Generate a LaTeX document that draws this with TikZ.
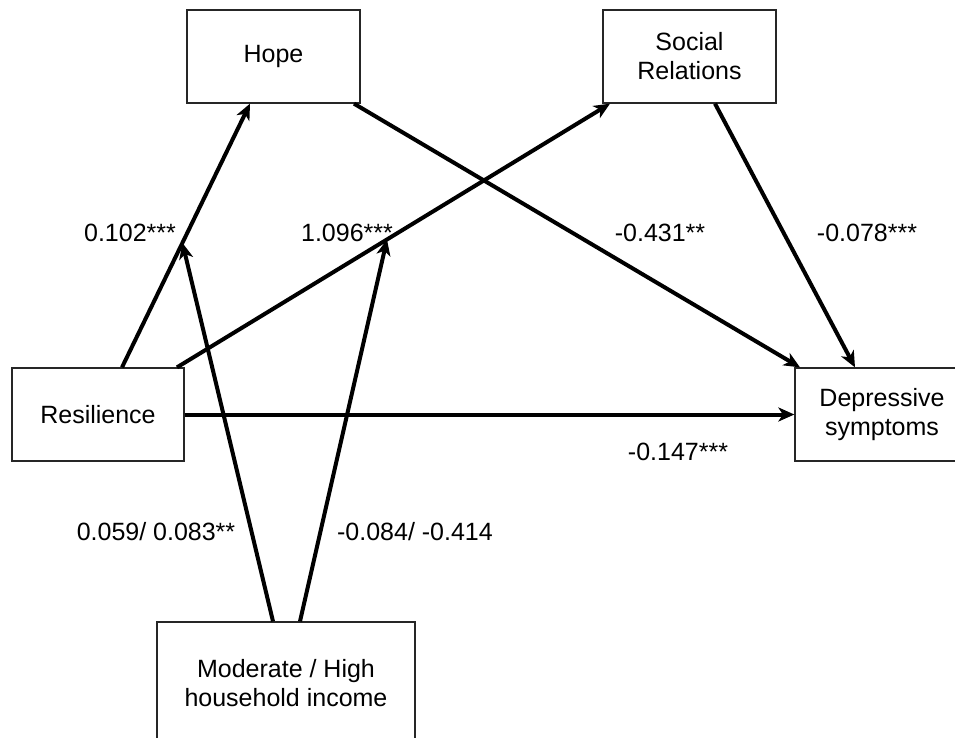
\documentclass[tikz,border=0pt]{standalone}
\usepackage{fontspec}
\setmainfont{Liberation Sans}
\usetikzlibrary{arrows.meta}
\tikzset{
  box/.style={draw=black!85, line width=1.3pt, fill=white, align=center, inner sep=0pt,
    font=\fontsize{25}{29}\selectfont},
  lbl/.style={font=\fontsize{25}{29}\selectfont, inner sep=0pt},
  arr/.style={line width=4pt, -{Stealth[length=16pt,width=14pt,inset=4.5pt]}}
}
\begin{document}
\begin{tikzpicture}[x=1pt,y=-1pt]
\useasboundingbox (0,0) rectangle (955,738);
\clip (0,0) rectangle (955,738);
\fill[white] (0,0) rectangle (955,738);

% boxes
\node[box, minimum width=173pt, minimum height=93pt] (hope) at (273.5,56.5) {Hope};
\node[box, minimum width=173pt, minimum height=93pt] (soc) at (689.5,56.5) {Social\\Relations};
\node[box, minimum width=172pt, minimum height=93pt] (res) at (98,414.5) {Resilience};
\node[box, minimum width=174pt, minimum height=93pt] (dep) at (882,414.5) {Depressive\\symptoms};
\node[box, minimum width=258pt, minimum height=122pt] (inc) at (286,683) {Moderate / High\\household income};

% anchor points on box edges
\coordinate (r1) at ([xshift=24pt]res.north);
\coordinate (r2) at ([xshift=79pt]res.north);
\coordinate (h1) at ([xshift=-23.5pt]hope.south);
\coordinate (h2) at ([xshift=80.5pt]hope.south);
\coordinate (s1) at ([xshift=-79.5pt]soc.south);
\coordinate (s2) at ([xshift=25.5pt]soc.south);
\coordinate (d1) at ([xshift=-82pt]dep.north);
\coordinate (d2) at ([xshift=-27pt]dep.north);
\coordinate (i1) at ([xshift=-13pt]inc.north);
\coordinate (i2) at ([xshift=14pt]inc.north);

% paths
\draw[arr] (r1) -- (h1) coordinate[pos=0.472] (m1);
\draw[arr] (r2) -- (s1) coordinate[pos=0.485] (m2);
\draw[arr] (h2) -- (d1);
\draw[arr] (s2) -- (d2);
\draw[arr] (res.east) -- (dep.west);
\draw[arr] (i1) -- (m1);
\draw[arr] (i2) -- (m2);

% labels
\node[lbl] (l1) at (130,233) {0.102***};
\node[lbl] (l2) at (347,233) {1.096***};
\node[lbl] (l3) at (660,233) {-0.431**};
\node[lbl] (l4) at (867,233) {-0.078***};
\node[lbl] (l5) at (678,452) {-0.147***};
\node[lbl] (l6) at (156,532) {0.059/ 0.083**};
\node[lbl] (l7) at (415,532) {-0.084/ -0.414};
\end{tikzpicture}
\end{document}
